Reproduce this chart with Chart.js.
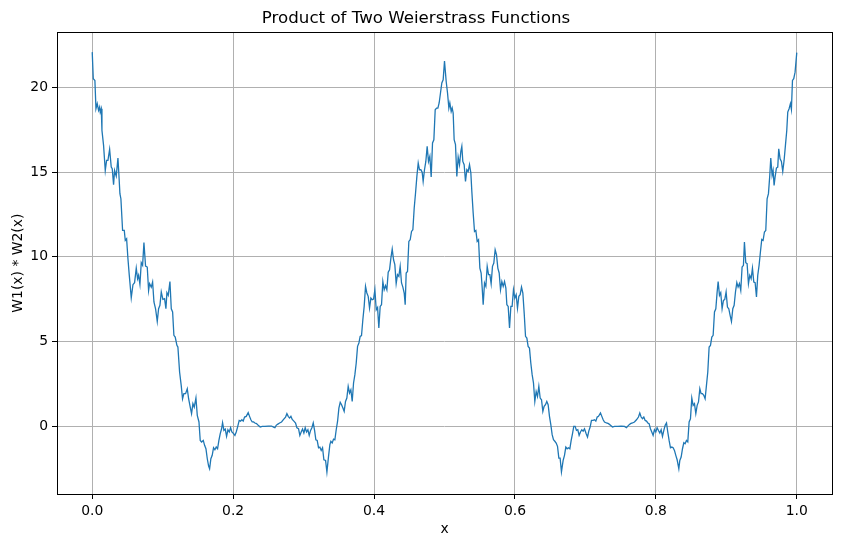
<!DOCTYPE html>
<html>
<head>
<meta charset="utf-8">
<script src="https://cdn.jsdelivr.net/npm/chart.js@4.4.1/dist/chart.umd.min.js"></script>
<style>
  html, body { margin: 0; padding: 0; background: #fff; }
  #chart { display: block; }
</style>
</head>
<body>
<canvas id="chart" width="841" height="547"></canvas>
<script>
const chartTitle = 'Product of Two Weierstrass Functions';
const xLabel = 'x';
const yLabel = 'W1(x) * W2(x)';
const xTicks = [0, 0.2, 0.4, 0.6, 0.8, 1.0];
const yTicks = [0, 5, 10, 15, 20];

// values, left to right
const xValues = [
  0.0000, 0.0015, 0.0038, 0.0053, 0.0071, 0.0090, 0.0105, 0.0114, 0.0128, 0.0138,
  0.0161, 0.0185, 0.0204, 0.0223, 0.0247, 0.0270, 0.0284, 0.0303, 0.0317, 0.0341,
  0.0365, 0.0379, 0.0393, 0.0407, 0.0431, 0.0455, 0.0469, 0.0488, 0.0507, 0.0526,
  0.0554, 0.0578, 0.0601, 0.0625, 0.0644, 0.0658, 0.0677, 0.0696, 0.0715, 0.0734,
  0.0757, 0.0781, 0.0800, 0.0814, 0.0838, 0.0857, 0.0876, 0.0899, 0.0923, 0.0942,
  0.0961, 0.0980, 0.1003, 0.1027, 0.1046, 0.1060, 0.1079, 0.1103, 0.1122, 0.1141,
  0.1159, 0.1178, 0.1202, 0.1216, 0.1240, 0.1263, 0.1282, 0.1301, 0.1325, 0.1349,
  0.1368, 0.1391, 0.1410, 0.1429, 0.1448, 0.1472, 0.1491, 0.1515, 0.1533, 0.1552,
  0.1576, 0.1595, 0.1614, 0.1633, 0.1652,
  0.1666, 0.1684, 0.1703, 0.1722, 0.1741, 0.1760, 0.1779, 0.1798, 0.1817, 0.1836,
  0.1850, 0.1869, 0.1888, 0.1907, 0.1926, 0.1945, 0.1964, 0.1982, 0.2006, 0.2025,
  0.2044, 0.2063, 0.2086, 0.2105, 0.2124, 0.2143, 0.2162, 0.2186, 0.2214, 0.2233,
  0.2252, 0.2271, 0.2290, 0.2309, 0.2332, 0.2356, 0.2384, 0.2413, 0.2451, 0.2498,
  0.2545, 0.2574, 0.2593, 0.2611, 0.2630, 0.2659, 0.2687, 0.2716, 0.2744, 0.2763,
  0.2782, 0.2801, 0.2820, 0.2839, 0.2862, 0.2886, 0.2905, 0.2928, 0.2947, 0.2966,
  0.2985, 0.3004, 0.3023, 0.3042, 0.3061, 0.3080, 0.3099, 0.3118, 0.3137, 0.3156,
  0.3174, 0.3193, 0.3212, 0.3231, 0.3250, 0.3269, 0.3288, 0.3312, 0.3331,
  0.3354, 0.3373, 0.3387, 0.3406, 0.3425, 0.3444, 0.3463, 0.3482, 0.3501, 0.3520,
  0.3539, 0.3558, 0.3576, 0.3595, 0.3614, 0.3633, 0.3652, 0.3671, 0.3690, 0.3709,
  0.3728, 0.3747, 0.3766, 0.3785, 0.3803, 0.3822, 0.3841, 0.3860, 0.3879, 0.3898,
  0.3917, 0.3936, 0.3955, 0.3974, 0.3993, 0.4012, 0.4031, 0.4050, 0.4068, 0.4087,
  0.4106, 0.4125, 0.4144, 0.4163, 0.4182, 0.4201, 0.4220, 0.4239, 0.4258, 0.4277,
  0.4295, 0.4314, 0.4333, 0.4352, 0.4371, 0.4390, 0.4409, 0.4428, 0.4442, 0.4456,
  0.4475, 0.4494, 0.4513, 0.4532, 0.4551, 0.4570, 0.4589, 0.4608, 0.4627, 0.4645,
  0.4664, 0.4683, 0.4697, 0.4716, 0.4735, 0.4754, 0.4773, 0.4792, 0.4811, 0.4830,
  0.4849, 0.4868, 0.4887, 0.4906, 0.4924, 0.4943, 0.4962, 0.4981, 0.5000,
  0.5024, 0.5043, 0.5062, 0.5076, 0.5095, 0.5109, 0.5123, 0.5137, 0.5156, 0.5175,
  0.5194, 0.5213, 0.5232, 0.5246, 0.5260, 0.5279, 0.5298, 0.5317, 0.5336, 0.5355,
  0.5374, 0.5388, 0.5407, 0.5426, 0.5445, 0.5464, 0.5483, 0.5502, 0.5520, 0.5535,
  0.5549, 0.5568, 0.5587, 0.5606, 0.5625, 0.5644, 0.5662, 0.5681, 0.5700, 0.5719,
  0.5738, 0.5757, 0.5776, 0.5795, 0.5814, 0.5833, 0.5852, 0.5871, 0.5885, 0.5904,
  0.5923, 0.5942, 0.5960, 0.5979, 0.5998, 0.6017, 0.6036, 0.6055, 0.6074, 0.6093,
  0.6112, 0.6131, 0.6150, 0.6169, 0.6187, 0.6206, 0.6225, 0.6244, 0.6263, 0.6282,
  0.6301, 0.6320, 0.6339, 0.6358, 0.6377, 0.6396, 0.6414, 0.6433, 0.6452, 0.6471,
  0.6490, 0.6509, 0.6528, 0.6547, 0.6566, 0.6585, 0.6604, 0.6623, 0.6641, 0.6660,
  0.6684, 0.6703, 0.6722, 0.6741, 0.6760, 0.6779, 0.6798, 0.6817, 0.6835, 0.6854,
  0.6873, 0.6892, 0.6911, 0.6930, 0.6949, 0.6968, 0.6987, 0.7011, 0.7030, 0.7048,
  0.7067, 0.7086, 0.7110, 0.7129, 0.7148, 0.7167, 0.7186, 0.7214, 0.7233, 0.7252,
  0.7271, 0.7299, 0.7328, 0.7356, 0.7384, 0.7413, 0.7460, 0.7507, 0.7555, 0.7583,
  0.7611, 0.7640, 0.7668, 0.7696, 0.7725, 0.7753, 0.7772, 0.7791, 0.7810, 0.7829,
  0.7848, 0.7867, 0.7886, 0.7904, 0.7923, 0.7942, 0.7961, 0.7980, 0.7999, 0.8018,
  0.8037, 0.8056, 0.8075, 0.8094, 0.8113, 0.8132, 0.8151, 0.8169, 0.8188, 0.8207,
  0.8226, 0.8245, 0.8264, 0.8283, 0.8302, 0.8326,
  0.8340, 0.8359, 0.8378, 0.8397, 0.8415, 0.8434, 0.8453, 0.8472, 0.8491, 0.8510,
  0.8529, 0.8548, 0.8567, 0.8586, 0.8605, 0.8624, 0.8642, 0.8661, 0.8680, 0.8699,
  0.8718, 0.8737, 0.8756, 0.8775, 0.8794, 0.8813, 0.8832, 0.8851, 0.8869, 0.8884,
  0.8903, 0.8921, 0.8940, 0.8959, 0.8978, 0.8997, 0.9016, 0.9035, 0.9054, 0.9073,
  0.9092, 0.9111, 0.9130, 0.9149, 0.9167, 0.9186, 0.9205, 0.9224, 0.9243, 0.9257,
  0.9276, 0.9295, 0.9314, 0.9333, 0.9352, 0.9371, 0.9390, 0.9409, 0.9428, 0.9446,
  0.9465, 0.9484, 0.9503, 0.9522, 0.9541, 0.9560, 0.9579, 0.9598, 0.9617, 0.9631,
  0.9650, 0.9664, 0.9678, 0.9692, 0.9711, 0.9730, 0.9744, 0.9763, 0.9782, 0.9801,
  0.9820, 0.9839, 0.9858, 0.9872, 0.9891, 0.9910, 0.9924, 0.9939, 0.9957, 0.9976,
  1.0000
];

const yValues = [
  22.08, 20.51, 20.41, 18.74, 19.04, 18.64, 18.84, 18.54, 18.74, 17.46,
  16.58, 15.10, 15.69, 15.69, 16.34, 15.30, 15.20, 14.26, 15.10, 14.77,
  15.83, 14.81, 13.73, 13.43, 11.56, 11.56, 10.97, 11.07, 9.89, 8.91,
  7.59, 8.36, 8.48, 9.34, 8.71, 8.91, 8.38, 9.66, 9.50, 10.84,
  9.46, 9.40, 8.02, 8.42, 8.22, 8.52, 7.34, 6.94, 6.19, 6.94,
  7.14, 7.93, 7.49, 7.53, 6.94, 7.89, 7.73, 8.55, 6.94, 6.75,
  5.37, 5.27, 4.78, 4.68, 3.21, 2.42, 1.63, 1.93, 1.93, 2.22,
  1.63, 1.14, 0.75, 1.34, 1.14, 1.67, 0.65, 0.26, -0.83, -0.92,
  -0.83, -1.12, -1.32, -1.91, -2.34,
  -2.50, -1.91, -1.71, -1.26, -1.38, -1.22, -1.32, -0.83, -0.43, -0.14,
  0.22, -0.24, -0.16, -0.59, -0.20, -0.33, -0.08, -0.33, -0.43, -0.53,
  -0.33, -0.04, 0.35, 0.31, 0.39, 0.31, 0.55, 0.59, 0.81, 0.59,
  0.39, 0.26, 0.26, 0.20, 0.16, 0.06, -0.04, 0.00, 0.00, 0.02,
  0.02, -0.04, -0.08, 0.06, 0.12, 0.20, 0.26, 0.41, 0.55, 0.75,
  0.59, 0.49, 0.59, 0.41, 0.31, 0.20, -0.08, -0.14, -0.53, -0.33,
  -0.16, -0.39, -0.08, -0.33, -0.20, -0.53, -0.24, -0.08, 0.20, -0.24,
  -0.79, -0.83, -1.26, -1.22, -1.42, -1.26, -1.97, -2.01, -2.69,
  -1.77, -1.08, -0.88, -0.98, -0.75, -0.79, -0.20, 0.29, 1.08, 1.42,
  1.28, 1.08, 0.88, 1.47, 1.67, 2.36, 1.97, 2.16, 1.47, 2.56,
  3.05, 3.74, 4.72, 4.92, 5.31, 5.35, 6.29, 7.08, 8.26, 7.87,
  7.67, 6.98, 7.57, 7.47, 7.51, 8.06, 6.88, 7.02, 5.80, 7.08,
  7.18, 8.55, 8.06, 8.30, 8.06, 9.09, 9.24, 9.93, 10.46, 9.83,
  9.54, 8.42, 8.95, 8.85, 9.44, 8.46, 8.22, 7.87, 7.18, 9.05,
  9.14, 10.91, 11.01, 11.50, 11.60, 12.88, 13.77, 14.75, 15.54, 15.14,
  15.14, 14.99, 14.45, 15.14, 15.63, 16.52, 15.63, 15.93, 14.71, 16.72,
  16.91, 18.68, 18.78, 18.78, 19.08, 19.67, 20.26, 20.45, 21.55,
  20.35, 19.67, 18.78, 19.08, 18.58, 18.78, 18.49, 16.91, 16.62, 14.75,
  15.89, 15.44, 16.22, 16.52, 15.63, 15.44, 14.45, 15.14, 15.04, 15.44,
  14.95, 13.86, 12.59, 11.50, 11.56, 10.91, 11.01, 9.34, 9.05, 8.16,
  7.18, 8.46, 8.26, 9.44, 8.95, 8.95, 8.42, 9.44, 9.64, 10.42,
  10.13, 9.34, 9.05, 8.06, 8.55, 8.26, 8.55, 8.16, 7.18, 7.08,
  5.80, 7.08, 7.08, 8.06, 7.57, 7.77, 6.98, 7.67, 7.77, 8.22,
  7.87, 6.69, 5.31, 5.21, 4.72, 4.62, 3.74, 3.05, 2.56, 1.47,
  2.06, 1.77, 2.36, 1.67, 1.57, 0.88, 1.18, 1.28, 1.47, 1.28,
  0.59, 0.10, -0.49, -0.79, -0.88, -0.98, -1.18, -1.87, -1.87, -2.69,
  -2.01, -1.71, -1.22, -1.32, -1.26, -1.32, -0.83, -0.43, 0.00, 0.00,
  -0.24, -0.20, -0.53, -0.33, -0.20, -0.28, -0.14, -0.43, -0.63, -0.28,
  -0.04, 0.35, 0.35, 0.39, 0.31, 0.55, 0.59, 0.79, 0.59, 0.39,
  0.26, 0.20, 0.16, 0.06, -0.04, 0.00, 0.00, 0.02, 0.00, -0.08,
  0.06, 0.16, 0.20, 0.26, 0.39, 0.55, 0.79, 0.55, 0.45, 0.55,
  0.35, 0.31, 0.20, 0.16, -0.14, -0.33, -0.53, -0.20, -0.33, -0.08,
  -0.24, -0.39, -0.20, -0.59, -0.24, 0.06, 0.20, -0.33, -0.83, -1.26,
  -1.22, -1.26, -1.42, -1.71, -1.97, -2.50,
  -2.01, -1.81, -1.32, -0.96, -1.02, -0.83, -0.92, 0.26, 0.45, 1.67,
  1.24, 1.34, 0.75, 1.24, 1.44, 2.22, 1.93, 1.93, 1.83, 1.63,
  2.42, 3.21, 4.68, 4.78, 5.27, 5.37, 6.75, 6.94, 7.89, 8.55,
  7.73, 7.89, 6.94, 7.43, 7.49, 7.93, 7.04, 6.94, 6.55, 6.19,
  6.94, 7.14, 7.93, 8.48, 8.22, 8.42, 8.02, 9.40, 9.50, 10.88,
  9.66, 9.60, 8.42, 8.91, 8.71, 9.34, 8.52, 8.48, 7.63, 8.91,
  9.50, 10.29, 11.03, 10.97, 11.47, 11.56, 13.43, 13.73, 14.81, 15.83,
  14.81, 15.10, 14.22, 14.71, 15.24, 15.30, 16.38, 15.79, 15.63, 15.04,
  15.69, 16.58, 17.46, 18.54, 18.74, 19.04, 18.70, 20.41, 20.51, 20.90,
  22.05
];

const points = xValues.map((x, i) => ({ x: x, y: yValues[i] }));

Chart.defaults.font.family = "'DejaVu Sans', sans-serif";
Chart.defaults.color = '#000';

// matplotlib style box round the axes
const frame = {
  id: 'frame',
  afterDraw(chart) {
    const { ctx, chartArea } = chart;
    const l = Math.round(chartArea.left) + 0.5;
    const t = Math.round(chartArea.top) + 0.5;
    const r = Math.round(chartArea.right) + 0.5;
    const b = Math.round(chartArea.bottom) + 0.5;
    ctx.save();
    ctx.strokeStyle = '#000';
    ctx.lineWidth = 1;
    ctx.strokeRect(l, t, r - l, b - t);
    ctx.restore();
  }
};

const tickFont = { size: 13.9 };

new Chart(document.getElementById('chart'), {
  type: 'line',
  data: {
    datasets: [{
      data: points,
      borderColor: '#1f77b4',
      borderWidth: 1.3,
      pointRadius: 0,
      fill: false,
      tension: 0
    }]
  },
  options: {
    responsive: false,
    animation: false,
    devicePixelRatio: 1,
    layout: { padding: { left: 0, right: 9, top: 0, bottom: 0 } },
    plugins: {
      legend: { display: false },
      tooltip: { enabled: false },
      title: {
        display: true,
        text: chartTitle,
        color: '#000',
        font: { size: 16.67, weight: 'normal' },
        padding: { top: 8.2, bottom: 4.1 }
      }
    },
    scales: {
      x: {
        type: 'linear',
        min: -0.05,
        max: 1.05,
        afterBuildTicks: (scale) => { scale.ticks = xTicks.map(v => ({ value: v })); },
        afterFit: (scale) => { scale.height = 53; },
        ticks: {
          callback: (v) => v.toFixed(1),
          font: tickFont,
          color: '#000',
          padding: 4,
          maxRotation: 0,
          autoSkip: false
        },
        grid: { color: '#b0b0b0', lineWidth: 1, tickColor: '#000', tickLength: 5, tickWidth: 1 },
        border: { display: false },
        title: { display: true, text: xLabel, font: tickFont, color: '#000', padding: { top: 4, bottom: 9 } }
      },
      y: {
        type: 'linear',
        min: -3.99,
        max: 23.25,
        afterBuildTicks: (scale) => { scale.ticks = yTicks.map(v => ({ value: v })); },
        afterFit: (scale) => { scale.width = 57; },
        ticks: {
          callback: (v) => String(v),
          font: tickFont,
          color: '#000',
          padding: 4
        },
        grid: { color: '#b0b0b0', lineWidth: 1, tickColor: '#000', tickLength: 5, tickWidth: 1 },
        border: { display: false },
        title: { display: true, text: yLabel, font: tickFont, color: '#000', padding: { top: 9.6, bottom: 0 } }
      }
    }
  },
  plugins: [frame]
});
</script>
</body>
</html>
